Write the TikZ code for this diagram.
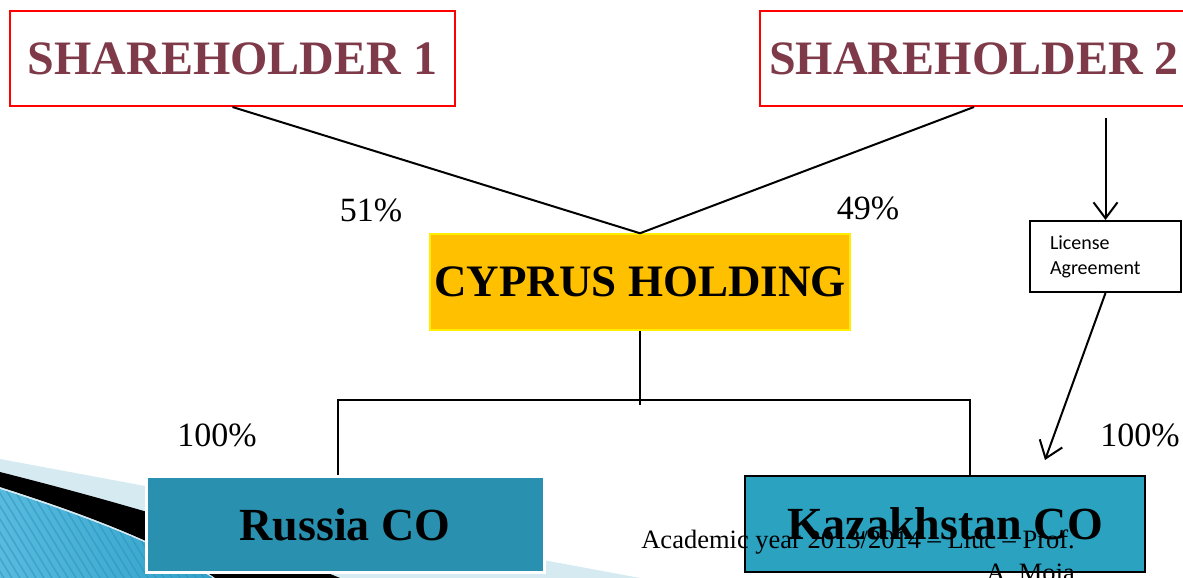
\documentclass[tikz,border=0pt]{standalone}
\usepackage{fontspec}
\setmainfont{Liberation Serif}
\newfontfamily\carlito{Carlito}
\usetikzlibrary{arrows.meta,calc}
\definecolor{shtext}{RGB}{127,58,74}
\definecolor{cyfill}{RGB}{255,192,0}
\definecolor{cyline}{RGB}{255,238,0}
\definecolor{rufill}{RGB}{41,145,175}
\definecolor{kzfill}{RGB}{43,162,192}
\definecolor{bandblue}{RGB}{214,234,242}
\definecolor{stripelight}{RGB}{88,186,222}
\definecolor{stripemid}{RGB}{48,160,200}
\definecolor{stripedark}{RGB}{40,146,186}
\begin{document}
\begin{tikzpicture}[x=1pt,y=-1pt,
		sh/.style={draw=red,line width=2pt,fill=white,minimum height=95pt,inner
					sep=0pt,text=shtext,font=\fontsize{48}{48}\selectfont\bfseries},
		hold/.style={draw=cyline,line width=1.5pt,fill=cyfill,minimum width=420pt,minimum
					height=96pt,inner sep=0pt,font=\fontsize{45}{45}\selectfont\bfseries},
		co/.style={minimum width=400pt,minimum height=96pt,inner
					sep=0pt,font=\fontsize{46}{46}\selectfont\bfseries},
		pct/.style={font=\fontsize{34}{34}\selectfont},
		foot/.style={font=\fontsize{26.5}{26.5}\selectfont,inner sep=0pt},
		lic/.style={draw,line width=2pt,fill=white,minimum width=151pt,minimum height=71pt,inner
					xsep=20pt,inner ysep=0pt,text width=111pt,align=left,font=\carlito\fontsize{20}{25}\selectfont},
		link/.style={line width=2pt},
		arr/.style={line width=2pt,-{Straight Barb[length=16pt,width=24pt]}}]
	\useasboundingbox (0,0) rectangle (1183,578);
	\clip (0,0) rectangle (1183,578);
	\fill[bandblue] (0,459) -- (640,578) -- (0,578) -- cycle;
	\fill[black] (0,472) .. controls (150,510) and (260,545) .. (340,578) -- (215,578)
		.. controls (180,555) and (120,525) .. (0,487) -- cycle;
	\begin{scope}
		\clip (0,489) .. controls (120,527) and (180,557) .. (213,578) -- (0,578) -- cycle;
		\shade[left color=stripelight,right color=stripemid] (0,480) rectangle (220,578);
		\foreach \s in {-160,-152,...,220}
			\draw[stripedark,opacity=.5,line width=1.5pt] (\s,480) -- ++(60,98);
	\end{scope}
	\draw[bandblue,line width=1pt] (0,488) .. controls (120,526) and (180,556) .. (214,578);

	\node[sh,minimum width=445pt] (sha) at (232.5,58.5) {SHAREHOLDER 1};
	\node[sh,minimum width=428pt] (shb) at (974,58.5) {SHAREHOLDER 2};
	\node[hold] (cyp) at (640,282) {CYPRUS HOLDING};
	\node[lic] (lic) at (1105.5,256.5) {License\\Agreement};
	\node[co,fill=rufill,draw=white,line width=3pt,minimum width=398pt] (rus) at (345,524.5) {Russia CO};
	\node[co,fill=kzfill,draw=black,line width=2pt] (kaz) at (945,524) {Kazakhstan CO};

	\node[pct] (pa) at (371,210) {51\%};
	\node[pct] (pb) at (868,208) {49\%};
	\node[pct] (pc) at (217,435) {100\%};
	\node[pct] (pd) at (1140,435) {100\%};

	\coordinate (busl) at (338,400);
	\coordinate (busr) at (970,400);
	\coordinate (kazin) at (1045,460);

	\draw[link] (sha.south) -- (cyp.north) -- (shb.south);
	\draw[link] (cyp.south) -- ($(cyp.south |- busl)+(0,5)$);
	\draw[link] (rus.north -| busl) -- (busl) -- (busr) -- (kaz.north -| busr);
	\draw[arr,shorten <=11pt] (lic.north |- shb.south) -- (lic.north);
	\draw[arr] (lic.south) -- (kazin);

	\node[foot,anchor=base east] (foota) at (1075,548) {Academic year 2013/2014 – Liuc – Prof.};
	\node[foot,anchor=base east] (footb) at (1075,581) {A. Moja};
\end{tikzpicture}
\end{document}
